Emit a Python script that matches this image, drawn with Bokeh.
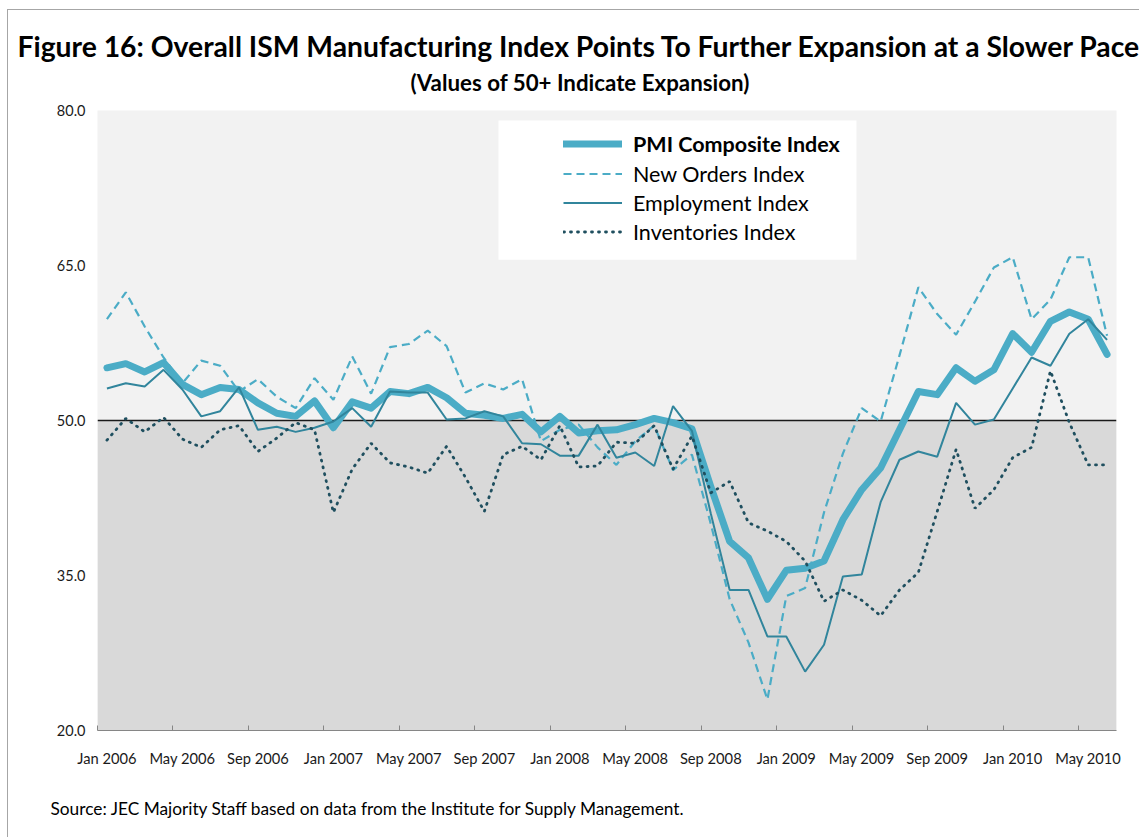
from bokeh.plotting import figure
from bokeh.models import (Range1d, FixedTicker, NumeralTickFormatter, BoxAnnotation,
                          Span, Title, Legend, LegendItem, ColumnDataSource)
from bokeh.embed import file_html
from bokeh.resources import INLINE

FONT = "Lato"

# ---- data (monthly, Jan 2006 .. Jun 2010) ----
month_names = ["Jan", "Feb", "Mar", "Apr", "May", "Jun",
               "Jul", "Aug", "Sep", "Oct", "Nov", "Dec"]
years = [2006, 2007, 2008, 2009, 2010]
months = [f"{m} {y}" for y in years for m in month_names][:54]

tick_labels = ["Jan 2006", "May 2006", "Sep 2006", "Jan 2007", "May 2007", "Sep 2007",
               "Jan 2008", "May 2008", "Sep 2008", "Jan 2009", "May 2009", "Sep 2009",
               "Jan 2010", "May 2010"]

pmi = [55.1, 55.5, 54.7, 55.6, 53.5, 52.5, 53.2, 53.0, 51.7, 50.7, 50.4, 51.9,
       49.3, 51.8, 51.2, 52.8, 52.6, 53.2, 52.2, 50.7, 50.5, 50.2, 50.6, 48.9,
       50.4, 48.8, 49.0, 49.1, 49.6, 50.2, 49.8, 49.2, 43.6, 38.3, 36.7, 32.7,
       35.5, 35.7, 36.4, 40.4, 43.3, 45.4, 49.1, 52.8, 52.5, 55.1, 53.8, 54.9,
       58.4, 56.6, 59.6, 60.5, 59.8, 56.4]

new_orders = [59.8, 62.4, 59.1, 56.1, 53.6, 55.8, 55.3, 52.8, 54.0, 52.3, 51.2, 54.1,
              52.0, 56.2, 52.6, 57.1, 57.4, 58.7, 57.2, 52.7, 53.6, 53.0, 54.0, 48.0,
              49.1, 49.6, 47.4, 45.7, 48.0, 49.5, 45.2, 46.7, 40.0, 32.7, 28.5, 23.0,
              33.0, 33.8, 41.1, 46.8, 51.2, 49.9, 56.3, 62.9, 60.3, 58.3, 61.5, 64.8,
              65.8, 59.8, 61.7, 65.8, 65.8, 58.2]

employment = [53.1, 53.6, 53.3, 54.9, 53.0, 50.4, 50.9, 53.2, 49.1, 49.4, 48.9, 49.3,
              49.9, 51.2, 49.4, 52.8, 52.7, 52.7, 50.1, 50.2, 50.9, 50.4, 47.8, 47.7,
              46.6, 46.6, 49.6, 46.4, 46.9, 45.6, 51.4, 49.0, 41.0, 33.6, 33.6, 29.1,
              29.1, 25.7, 28.3, 34.9, 35.1, 42.1, 46.2, 47.0, 46.5, 51.7, 49.6, 50.1,
              53.1, 56.1, 55.3, 58.4, 59.8, 57.8]

inventories = [48.1, 50.2, 48.9, 50.3, 48.2, 47.4, 49.1, 49.5, 47.0, 48.3, 49.8, 49.1,
               41.1, 45.3, 47.8, 45.9, 45.5, 44.9, 47.5, 44.5, 41.2, 46.7, 47.5, 46.2,
               49.5, 45.5, 45.6, 47.9, 47.8, 49.5, 45.3, 48.5, 43.0, 44.1, 40.1, 39.3,
               38.3, 36.4, 32.5, 33.6, 32.6, 31.1, 33.6, 35.3, 41.2, 47.2, 41.5, 43.3,
               46.4, 47.4, 54.8, 49.8, 45.7, 45.7]

y_ticks = [20, 35, 50, 65, 80]

idx = list(range(len(months)))
src = ColumnDataSource(dict(x=idx, month=months, pmi=pmi, new_orders=new_orders,
                            employment=employment, inventories=inventories))

p = figure(width=1132, height=835, x_range=Range1d(-0.5, len(months) - 0.5),
           y_range=Range1d(20, 80), output_backend="svg", toolbar_location=None,
           min_border_left=89, min_border_right=24, min_border_top=100,
           min_border_bottom=107)
p.margin = (9, 0, 0, 7)
p.styles = {"border-left": "1px solid #a6a6a6", "border-top": "1px solid #a6a6a6"}
p.background_fill_color = "#f2f2f2"
p.border_fill_color = "white"
p.outline_line_color = None
p.xgrid.visible = False
p.ygrid.visible = False

# shaded contraction zone and the 50 line
p.add_layout(BoxAnnotation(top=50, fill_color="#d9d9d9", fill_alpha=1,
                           line_color=None, level="underlay"))
p.add_layout(Span(location=50, dimension="width", line_color="#1a1a1a",
                  line_width=1.5, level="underlay"))

# axes
label_pos = [i for i in idx if i % 4 == 0]
xa = p.xaxis[0]
xa.ticker = FixedTicker(ticks=label_pos, minor_ticks=[i - 0.5 for i in label_pos])
xa.major_label_overrides = {i: lab for i, lab in zip(label_pos, tick_labels)}
xa.major_tick_line_color = None
xa.major_tick_in = 0
xa.major_tick_out = 0
xa.minor_tick_line_color = "#868686"
xa.minor_tick_in = 5
xa.minor_tick_out = 0
xa.axis_line_color = "#868686"
xa.axis_line_width = 1
xa.major_label_standoff = 18
xa.major_label_text_font = FONT
xa.major_label_text_font_size = "14.7px"
xa.major_label_text_color = "#1a1a1a"

ya = p.yaxis[0]
ya.ticker = FixedTicker(ticks=y_ticks)
ya.formatter = NumeralTickFormatter(format="0.0")
ya.axis_line_color = None
ya.major_tick_line_color = None
ya.minor_tick_line_color = None
ya.major_tick_in = 0
ya.major_tick_out = 0
ya.major_label_standoff = 12
ya.major_label_text_font = FONT
ya.major_label_text_font_size = "14.5px"
ya.major_label_text_color = "#1a1a1a"

# series
r_pmi = p.line("x", "pmi", source=src, line_color="#4BACC6", line_width=7,
               line_join="round", line_cap="round")
r_no = p.line("x", "new_orders", source=src, line_color="#4BACC6", line_width=2.2,
              line_dash="8 5")
r_emp = p.line("x", "employment", source=src, line_color="#31859C", line_width=2)
r_inv = p.line("x", "inventories", source=src, line_color="#1F4F5F", line_width=2.8,
               line_dash="1 6", line_cap="round")

# legend box
p.add_layout(BoxAnnotation(left=20.75, right=39.72, top=79.03, bottom=65.55,
                           fill_color="white", fill_alpha=1, line_color=None))

leg_common = dict(orientation="vertical", padding=0, spacing=0, margin=0,
                  glyph_width=59, glyph_height=29, label_height=29, label_standoff=11,
                  label_text_font=FONT, label_text_font_size="21.5px",
                  label_text_color="#000000", background_fill_alpha=0,
                  border_line_color=None)
leg_a = Legend(items=[LegendItem(label="PMI Composite Index", renderers=[r_pmi])],
               location=(466, 572), label_text_font_style="bold", **leg_common)
leg_b = Legend(items=[LegendItem(label="New Orders Index", renderers=[r_no]),
                      LegendItem(label="Employment Index", renderers=[r_emp]),
                      LegendItem(label="Inventories Index", renderers=[r_inv])],
               location=(466, 484), **leg_common)
p.add_layout(leg_a)
p.add_layout(leg_b)

# titles and source
p.add_layout(Title(text="(Values of 50+ Indicate Expansion)", align="left", offset=313,
                   text_font=FONT, text_font_size="22.3px", text_font_style="bold",
                   text_color="#000000", standoff=29), "above")
p.add_layout(Title(text="Figure 16: Overall ISM Manufacturing Index Points To Further Expansion at a Slower Pace",
                   align="left", offset=-80, text_font=FONT, text_font_size="28.3px",
                   text_font_style="bold", text_color="#000000", standoff=-21), "above")
p.add_layout(Title(text="Source: JEC Majority Staff based on data from the Institute for Supply Management.",
                   align="left", offset=-47, text_font=FONT, text_font_size="17.3px",
                   text_font_style="normal", text_color="#000000", standoff=53), "below")

open("out.html", "w").write(file_html(p, INLINE))
